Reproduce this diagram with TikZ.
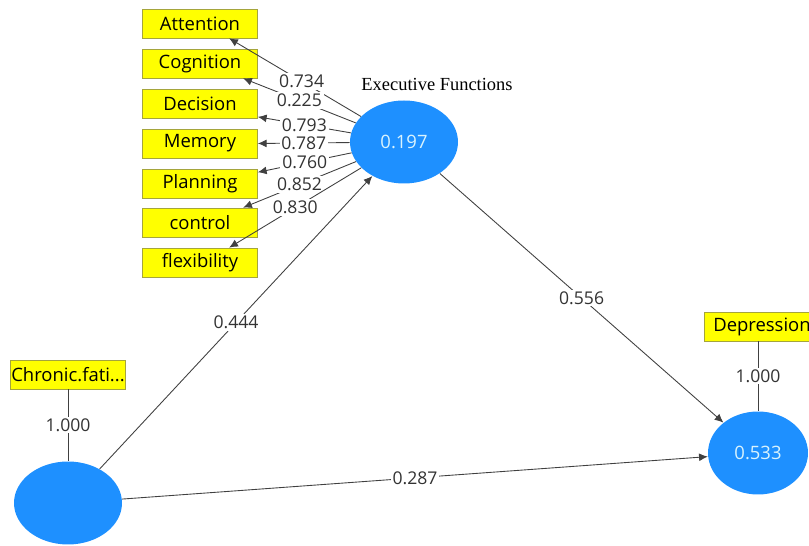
\documentclass[tikz,border=0pt]{standalone}
\usepackage{fontspec}
\setmainfont{Liberation Serif}
\setsansfont{Open Sans}
\usepackage{xcolor}
\usepackage{tikz}
\usetikzlibrary{positioning}
\usetikzlibrary{arrows.meta}
\usetikzlibrary{shapes.geometric}

\definecolor{lvblue}{RGB}{30,144,255}
\definecolor{indyellow}{RGB}{255,255,0}
\definecolor{indborder}{RGB}{165,165,60}

\begin{document}
\begin{tikzpicture}[
  x=0.02cm, y=-0.02cm,
  ind/.style={
    rectangle,
    draw=indborder,
    line width=0.4pt,
    fill=indyellow,
    minimum width=2.3cm,
    minimum height=0.58cm,
    inner sep=0pt,
    font=\sffamily\fontsize{10.5}{12}\selectfont
  },
  lv/.style={
    ellipse,
    fill=lvblue,
    minimum width=#1,
    minimum height=1.66cm,
    inner sep=0pt,
    text=white!85!cyan,
    font=\sffamily\fontsize{10.5}{12}\selectfont
  },
  path/.style={draw=black!75, line width=0.5pt, -{Latex[length=5pt,width=4.5pt]}},
  link/.style={draw=black!75, line width=0.5pt},
  wt/.style={fill=white, inner sep=1pt, text=black!80, font=\sffamily\fontsize{10}{12}\selectfont}
]
\useasboundingbox (0,0) rectangle (809,546);
\clip (0,0) rectangle (809,546);

% Indicators of executive functions
\node[ind] (att)  at (200,23.5)  {Attention};
\node[ind] (cog)  at (200,63.5)  {Cognition};
\node[ind] (dec)  at (200,103.5) {Decision};
\node[ind] (mem)  at (200,143.5) {Memory};
\node[ind] (plan) at (200,183.5) {Planning};
\node[ind] (ctrl) at (200,222.5) {control};
\node[ind] (flex) at (200,262.5) {flexibility};

% Latent variables
\node[lv=2.16cm] (exec) at (404,142) {0.197};
\node[font=\fontsize{10.5}{12}\selectfont] (execlbl) at (437,84) {Executive Functions};
\node[lv=2.16cm] (fatigue) at (68,503) {};
\node[lv=2.0cm] (depr) at (758,453) {0.533};

% Single indicators
\node[ind] (fatbox)  at (68,374.5)  {Chronic.fati...};
\node[ind] (deprbox) at (762,326.5) {Depression};

% Outer loadings
\draw[path] (exec) -- node[wt, pos=0.45]{0.734} (att.-27);
\draw[path] (exec) -- node[wt]{0.225} (cog.-19);
\draw[path] (exec) -- node[wt]{0.793} (dec.-13);
\draw[path] (exec) -- node[wt]{0.787} (mem.east);
\draw[path] (exec) -- node[wt]{0.760} (plan.11);
\draw[path] (exec) -- node[wt]{0.852} (ctrl.19);
\draw[path] (exec) -- node[wt]{0.830} (flex.27);

\draw[link] (fatbox.south) -- node[wt]{1.000} (fatigue.north);
\draw[link] (deprbox.south -| depr.north) -- node[wt]{1.000} (depr.north);

% Path coefficients
\draw[path] (fatigue) -- node[wt]{0.444} (exec);
\draw[path] (exec) -- node[wt]{0.556} (depr);
\draw[path] (fatigue) -- node[wt]{0.287} (depr);

\end{tikzpicture}
\end{document}
